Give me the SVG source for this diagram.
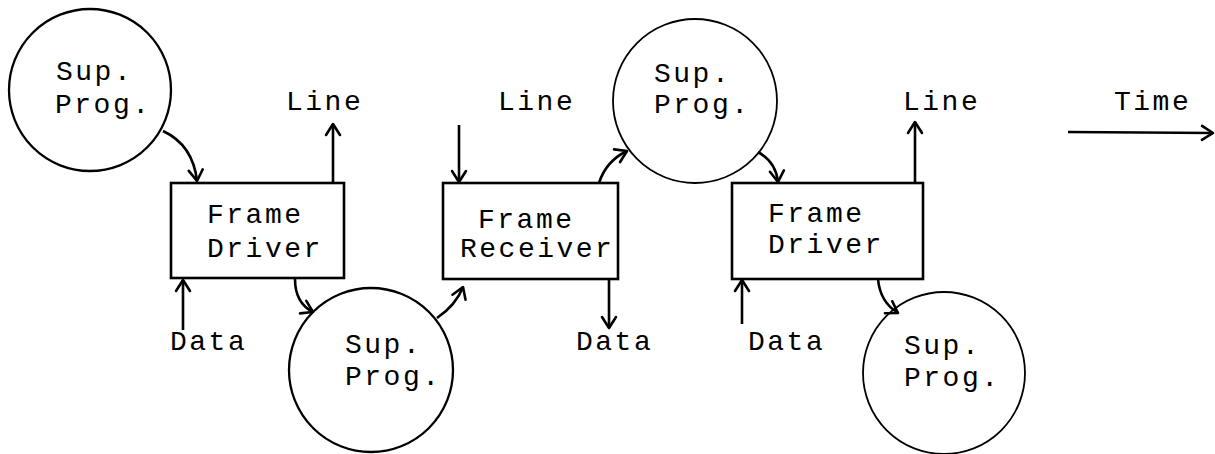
<svg xmlns="http://www.w3.org/2000/svg" width="1215" height="454" viewBox="0 0 1215 454">
<style>
text{font-family:"Liberation Mono","Courier New",monospace;font-size:28px;letter-spacing:2.5px;fill:#000}
.circ{fill:none;stroke:#000;stroke-width:2.3}
.thin{stroke-width:1.8}
.box{fill:none;stroke:#000;stroke-width:2.6}
.conn path{fill:none;stroke:#000;stroke-width:2.6;marker-end:url(#ah)}
</style>
<defs>
<marker id="ah" markerUnits="userSpaceOnUse" viewBox="-14 -9 16 18" refX="0" refY="0" markerWidth="16" markerHeight="18" orient="auto" overflow="visible">
<path d="M-11,-7 L0,0 L-11,7" fill="none" stroke="#000" stroke-width="2.6" stroke-linecap="round" stroke-linejoin="round"/>
</marker>
</defs>
<g id="sup1"><circle class="circ" cx="90" cy="90" r="81"/><text x="56" y="80">Sup.</text><text x="55" y="113">Prog.</text></g>
<g id="driver1"><rect class="box" x="171" y="183" width="173" height="95"/><text x="207" y="223">Frame</text><text x="207" y="257">Driver</text></g>
<g id="sup2"><circle class="circ" cx="371" cy="370" r="82"/><text x="345" y="353">Sup.</text><text x="345" y="385">Prog.</text></g>
<g id="receiver"><rect class="box" x="443" y="183" width="175" height="96"/><text x="478" y="228">Frame</text><text x="460" y="257">Receiver</text></g>
<g id="sup3"><circle class="circ thin" cx="695" cy="101" r="82"/><text x="654" y="82">Sup.</text><text x="654" y="113">Prog.</text></g>
<g id="driver2"><rect class="box" x="732" y="183" width="191" height="96"/><text x="768" y="222">Frame</text><text x="768" y="253">Driver</text></g>
<g id="sup4"><circle class="circ thin" cx="944" cy="373" r="81"/><text x="904" y="354">Sup.</text><text x="904" y="386">Prog.</text></g>
<g id="labels">
<text x="286" y="110">Line</text>
<text x="498" y="110">Line</text>
<text x="903" y="110">Line</text>
<text x="1114" y="110">Time</text>
<text x="170" y="350">Data</text>
<text x="576" y="350">Data</text>
<text x="748" y="350">Data</text>
</g>
<g id="connectors" class="conn">
<path d="M163,131 Q193,145 197,181"/>
<path d="M333,183 L333,124"/>
<path d="M183,330 L183,280"/>
<path d="M295,279 Q295,303 313,312"/>
<path d="M437,318 Q456,305 463,287"/>
<path d="M459,125 L459,182"/>
<path d="M609,280 L609,328"/>
<path d="M599,183 Q606,161 627,151"/>
<path d="M758,152 Q776,162 778,182"/>
<path d="M915,183 L915,122"/>
<path d="M742,324 L742,280"/>
<path d="M878,279 Q880,302 898,313"/>
<path d="M1068,132 L1213,133"/>
</g>
</svg>
